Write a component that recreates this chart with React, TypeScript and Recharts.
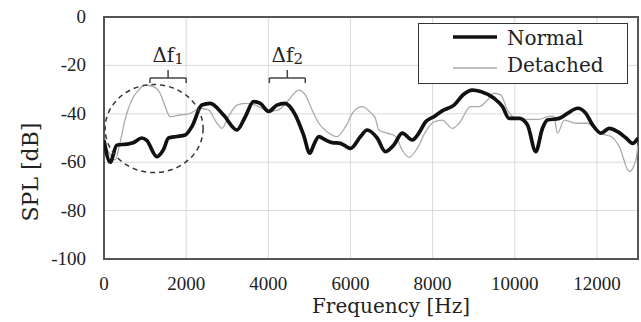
import {
  LineChart,
  Line,
  XAxis,
  YAxis,
  CartesianGrid,
  ReferenceArea,
  ReferenceLine,
  ReferenceDot,
  Legend,
  Label,
} from 'recharts';

// SPL spectra: [frequency Hz, SPL dB]
const normalSpl: [number, number][] = [
  [0, -51], [150, -60], [310, -53], [550, -52.5], [710, -52], [920, -50],
  [1040, -51], [1285, -57.7], [1450, -54.7], [1570, -50], [1770, -49.4],
  [1975, -48.8], [2150, -45], [2380, -36.4], [2585, -35.7], [2910, -40.5],
  [3235, -46.7], [3440, -41.2], [3640, -35], [3805, -35.7], [4010, -39],
  [4210, -36.4], [4400, -35.7], [4660, -40.5], [4860, -48.8], [5010, -56.3],
  [5105, -52.9], [5230, -49.4], [5390, -50.8], [5555, -51.9], [5755, -52.2],
  [6000, -54.3], [6245, -49.4], [6405, -46.7], [6650, -50], [6850, -55.6],
  [7055, -52.9], [7260, -48], [7505, -50.8], [7665, -48], [7830, -43.3],
  [8030, -41.2], [8275, -38.4], [8520, -36.4], [8750, -32], [8970, -30.2],
  [9170, -30.8], [9495, -33.6], [9700, -37], [9860, -41.9], [10105, -41.9],
  [10310, -44.6], [10510, -55.6], [10675, -46], [10795, -42.6], [11080, -41.9],
  [11285, -39.8], [11530, -37.7], [11730, -39.8], [11895, -44.6], [12100, -48],
  [12300, -46], [12505, -47.4], [12710, -50], [12870, -52.2], [13000, -50],
];

const detachedSpl: [number, number][] = [
  [0, -52], [105, -55.6], [270, -59], [390, -52], [510, -42.6], [675, -34.3],
  [840, -30.2], [1000, -28.1], [1205, -28.8], [1365, -31.5], [1490, -37],
  [1610, -41.2], [1855, -40.5], [2100, -39.8], [2340, -37.7], [2545, -38.4],
  [2750, -43.9], [2870, -46], [3030, -41.2], [3235, -36.4], [3440, -35.7],
  [3680, -36.4], [3845, -37.7], [4050, -39], [4250, -38.4], [4495, -34.3],
  [4740, -30.2], [4900, -32.2], [5065, -38.4], [5230, -43.9], [5430, -47.4],
  [5675, -49.4], [5880, -45.3], [6080, -39], [6285, -37], [6490, -39.5],
  [6610, -42], [6690, -46.7], [6895, -48], [7100, -49.4], [7260, -55],
  [7425, -58], [7625, -54.3], [7830, -47.4], [8030, -43.3], [8235, -42.6],
  [8480, -46], [8645, -43.9], [8925, -37], [9130, -37], [9335, -34.3],
  [9495, -31.5], [9660, -32.2], [9820, -38.4], [10025, -41.9], [10310, -42.3],
  [10595, -42.3], [10795, -41.2], [10950, -41], [11040, -48], [11205, -42.6],
  [11490, -43.9], [11775, -43.9], [12060, -48], [12345, -49.4], [12545, -53.6],
  [12790, -63.9], [12950, -59], [13000, -52.9],
];

const xTicks = [0, 2000, 4000, 6000, 8000, 10000, 12000];
const yTicks = [-100, -80, -60, -40, -20, 0];

// Δf brackets: start/end frequency, level of bracket, subscript
const brackets = [
  { from: 1120, to: 2000, sub: '1' },
  { from: 4025, to: 4900, sub: '2' },
];
const bracketLevel = -25.2;
const bracketFoot = -27.3;
const bracketTip = -21.9;

// dashed circle around the low-frequency region
const circle = { f: 1220, spl: -46.1 };

const toRows = (pts: [number, number][]) => pts.map(([f, spl]) => ({ f, spl }));
const normalRows = toRows(normalSpl);
const detachedRows = toRows(detachedSpl);

const tickStyle = { fontFamily: "'Liberation Serif', 'Times New Roman', serif", fontSize: 19 };
const titleFont = 'DejaVu Serif';

const XTick = ({ x, y, payload }: any) => (
  <text x={x} y={y + 13} textAnchor="middle" style={tickStyle} fill="#222">
    {payload.value}
  </text>
);

const YTick = ({ x, y, payload }: any) => (
  <text x={x} y={y + 6} textAnchor="end" style={tickStyle} fill="#222">
    {payload.value}
  </text>
);

const LegendBox = () => (
  <svg width={210} height={61} style={{ display: 'block' }}>
    <rect x={0.5} y={0.5} width={209} height={60} fill="#fff" stroke="#333" strokeWidth={1} />
    <line x1={35} x2={79} y1={14} y2={14} stroke="#111" strokeWidth={3.5} />
    <text x={89} y={22} fontFamily={titleFont} fontSize={20} fill="#222">Normal</text>
    <line x1={35} x2={79} y1={45} y2={45} stroke="#aaa" strokeWidth={1.5} />
    <text x={89} y={49} fontFamily={titleFont} fontSize={20} fill="#222">Detached</text>
  </svg>
);

export default function App() {
  return (
    <div style={{ position: 'absolute', left: 0, top: 0, background: '#fff' }}>
      <LineChart width={641} height={322} margin={{ top: 17, right: 3, bottom: 0, left: 0 }}>
        <CartesianGrid stroke="#d9d9d9" strokeWidth={1} />
        <XAxis
          dataKey="f"
          type="number"
          domain={[0, 13000]}
          ticks={xTicks}
          allowDataOverflow
          height={63}
          tickLine={false}
          tickSize={0}
          tickMargin={18}
          axisLine={false}
          tick={<XTick />}
        >
          <Label
            content={({ viewBox }: any) => (
              <text
                x={viewBox.x + viewBox.width / 2 + 20}
                y={viewBox.y + 54}
                textAnchor="middle"
                fontFamily={titleFont}
                fontSize={20}
                fill="#222"
              >
                Frequency [Hz]
              </text>
            )}
          />
        </XAxis>
        <YAxis
          type="number"
          domain={[-100, 0]}
          ticks={yTicks}
          width={104}
          tickLine={false}
          tickSize={0}
          tickMargin={18}
          axisLine={false}
          tick={<YTick />}
        >
          <Label
            content={({ viewBox }: any) => {
              const cx = 30;
              const cy = viewBox.y + viewBox.height / 2 + 34;
              return (
                <text
                  x={cx}
                  y={cy}
                  transform={`rotate(-90 ${cx} ${cy})`}
                  textAnchor="middle"
                  dominantBaseline="central"
                  fontFamily={titleFont}
                  fontSize={22}
                  fill="#222"
                >
                  SPL [dB]
                </text>
              );
            }}
          />
        </YAxis>
        <ReferenceArea x1={0} x2={13000} y1={-100} y2={0} fill="none" stroke="#555" strokeWidth={2} />
        <Line
          data={detachedRows}
          dataKey="spl"
          type="monotone"
          stroke="#aaa"
          strokeWidth={1.3}
          dot={false}
          isAnimationActive={false}
        />
        <Line
          data={normalRows}
          dataKey="spl"
          type="monotone"
          stroke="#111"
          strokeWidth={3.7}
          dot={false}
          isAnimationActive={false}
        />
        <ReferenceDot
          x={circle.f}
          y={circle.spl}
          r={1}
          shape={(p: any) => (
            <ellipse cx={p.cx} cy={p.cy} rx={49} ry={44} fill="none" stroke="#333" strokeWidth={1.5} strokeDasharray="5 4" />
          )}
        />
        {brackets.flatMap((b, i) => {
          const mid = (b.from + b.to) / 2;
          const st = { stroke: '#444', strokeWidth: 1.5 };
          return [
            <ReferenceLine key={`a${i}`} segment={[{ x: b.from, y: bracketFoot }, { x: b.from, y: bracketLevel }]} {...st} />,
            <ReferenceLine key={`b${i}`} segment={[{ x: b.from, y: bracketLevel }, { x: b.to, y: bracketLevel }]} {...st} />,
            <ReferenceLine key={`c${i}`} segment={[{ x: b.to, y: bracketLevel }, { x: b.to, y: bracketFoot }]} {...st} />,
            <ReferenceLine key={`d${i}`} segment={[{ x: mid, y: bracketLevel }, { x: mid, y: bracketTip }]} {...st} />,
            <ReferenceDot
              key={`e${i}`}
              x={mid}
              y={bracketTip}
              r={1}
              shape={(p: any) => (
                <text x={p.cx} y={p.cy - 8} textAnchor="middle" fontFamily={titleFont} fontSize={20} fill="#222">
                  Δf<tspan fontSize={15} dy={2}>{b.sub}</tspan>
                </text>
              )}
            />,
          ];
        })}
        <Legend
          layout="vertical"
          align="center"
          verticalAlign="middle"
          wrapperStyle={{ position: 'absolute', left: 418, top: 23, width: 210, height: 61 }}
          content={() => <LegendBox />}
        />
      </LineChart>
    </div>
  );
}
